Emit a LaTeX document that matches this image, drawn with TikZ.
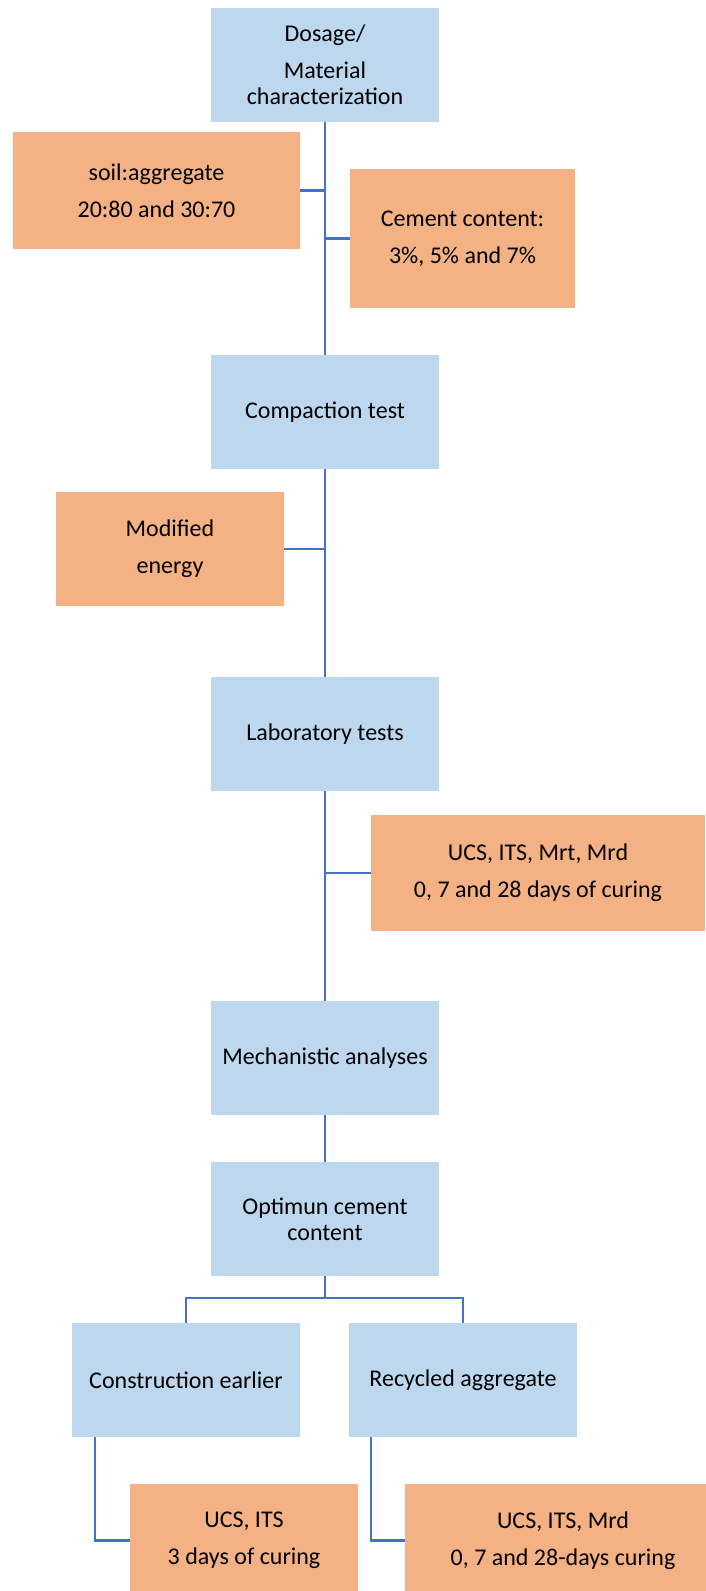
\documentclass[tikz,border=0pt]{standalone}
\usepackage{fontspec}
\setmainfont{Carlito}
\definecolor{boxblue}{HTML}{BDD7EE}
\definecolor{boxorange}{HTML}{F4B183}
\definecolor{linkblue}{HTML}{4472C4}
\tikzset{
  box/.style={rectangle, inner sep=0pt, outer sep=0pt, align=center,
    font=\fontsize{18pt}{19.5pt}\selectfont},
  bluebox/.style={box, fill=boxblue},
  orangebox/.style={box, fill=boxorange},
  link/.style={draw=linkblue, line width=2pt}
}
\newcommand\mybox[7]{\node[#6, minimum width={(#4-#2)*0.75pt}, minimum height={(#5-#3)*0.75pt}] (#1) at ({(#2+#4)/2},{(#3+#5)/2}) {#7};}
\begin{document}
\begin{tikzpicture}[x=0.75pt, y=-0.75pt]
\clip (0,0) rectangle (706,1591);
\fill[white] (0,0) rectangle (706,1591);
% boxes
\mybox{dos}{211}{8}{439}{122}{bluebox}{Dosage/\\[8.25pt]Material\\characterization}
\mybox{soil}{13}{132}{300}{249}{orangebox}{soil:aggregate\\[8.25pt]20:80 and 30:70}
\mybox{cem}{350}{169}{575}{308}{orangebox}{Cement content:\\[8.25pt]3\%, 5\% and 7\%}
\mybox{comp}{211}{355}{439}{469}{bluebox}{Compaction test}
\mybox{mod}{56}{492}{284}{606}{orangebox}{Modified\\[8.25pt]energy}
\mybox{lab}{211}{677}{439}{791}{bluebox}{Laboratory tests}
\mybox{ucs}{371}{815}{705}{931}{orangebox}{UCS, ITS, Mrt, Mrd\\[8.25pt]0, 7 and 28 days of curing}
\mybox{mech}{211}{1001}{439}{1115}{bluebox}{Mechanistic analyses}
\mybox{opt}{211}{1162}{439}{1276}{bluebox}{Optimun cement\\content}
\mybox{con}{72}{1323}{300}{1437}{bluebox}{Construction earlier}
\mybox{rec}{349}{1323}{577}{1437}{bluebox}{Recycled aggregate}
\mybox{ua}{130}{1484}{358}{1597}{orangebox}{UCS, ITS\\[8.25pt]3 days of curing}
\mybox{ub}{405}{1484}{721}{1597}{orangebox}{UCS, ITS, Mrd\\[8.25pt]0, 7 and 28-days curing}
% connectors
\coordinate (bj) at (325,1298);
\coordinate (ca) at (95,1437);
\coordinate (cb) at (371,1437);
\draw[link] (dos.south) -- (comp.north);
\draw[link] (soil.east) -- (soil.east -| dos.south);
\draw[link] (cem.west) -- (cem.west -| dos.south);
\draw[link] (comp.south) -- (lab.north);
\draw[link] (mod.east) -- (mod.east -| comp.south);
\draw[link] (lab.south) -- (mech.north);
\draw[link] (ucs.west) -- (ucs.west -| lab.south);
\draw[link] (mech.south) -- (opt.north);
\draw[link] (opt.south) -- (bj);
\draw[link] (con.north) |- (bj) -| (rec.north);
\draw[link] (ca) |- (ua.west);
\draw[link] (cb) |- (ub.west);
\end{tikzpicture}
\end{document}
